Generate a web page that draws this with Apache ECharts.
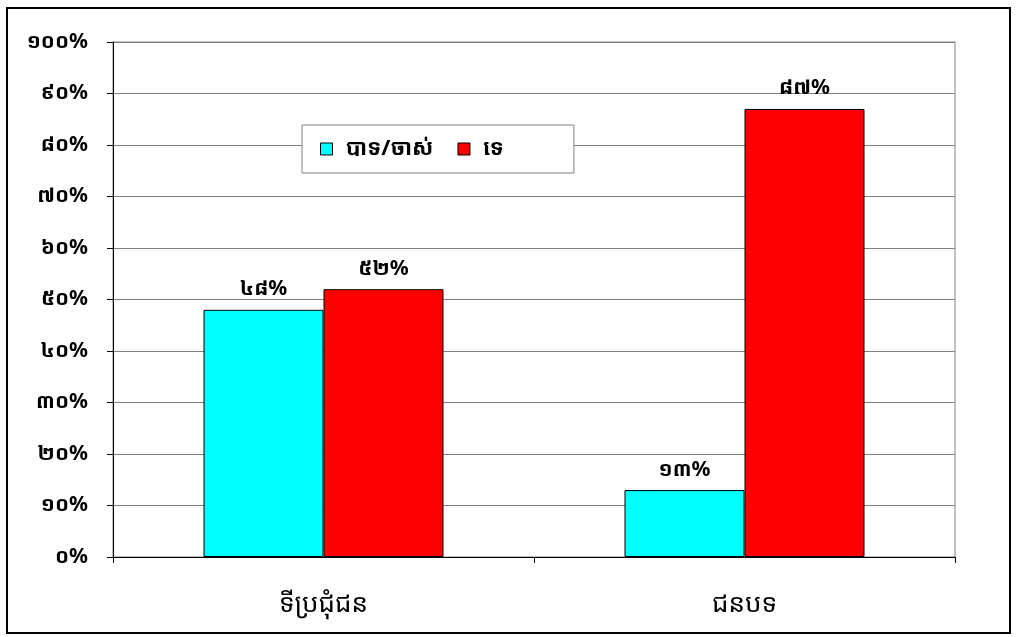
<!DOCTYPE html>
<html lang="km">
<head>
    <meta charset="utf-8">
    <title>ទីប្រជុំជន / ជនបទ</title>
    <script src="https://cdn.jsdelivr.net/npm/echarts@6/dist/echarts.min.js"></script>
    <style>
        html, body { margin: 0; padding: 0; background: #fff; }
        #main { width: 1019px; height: 637px; }
    </style>
</head>
<body>
<div id="main"></div>
<script>
    // data
    var categories = ['ទីប្រជុំជន', 'ជនបទ'];
    var seriesNames = ['បាទ/ចាស់', 'ទេ'];
    var yesValues = [48, 13];
    var noValues = [52, 87];
    var yTickLabels = ['០%', '១០%', '២០%', '៣០%', '៤០%', '៥០%', '៦០%', '៧០%', '៨០%', '៩០%', '១០០%'];

    var khDigits = ['០', '១', '២', '៣', '៤', '៥', '៦', '៧', '៨', '៩'];
    function toKhmer(n) {
        return String(n).replace(/[0-9]/g, function (d) { return khDigits[+d]; });
    }

    var font = "'Noto Sans Khmer', 'Khmer OS', 'DejaVu Sans', sans-serif";

    var myChart = echarts.init(document.getElementById('main'));
    var option = {
        backgroundColor: '#fff',
        animation: false,
        textStyle: { fontFamily: font },
        graphic: [{
            type: 'rect',
            shape: { x: 7, y: 8, width: 1003, height: 625 },
            style: { fill: 'none', stroke: '#000', lineWidth: 2 },
            z: 100
        }],
        grid: {
            left: 113, right: 64, top: 42, bottom: 80,
            show: true, borderColor: '#808080', borderWidth: 1
        },
        legend: {
            data: seriesNames,
            left: 302, top: 125,
            orient: 'horizontal',
            icon: 'rect',
            itemWidth: 12, itemHeight: 12,
            itemGap: 24,
            padding: [13, 70, 13, 18],
            backgroundColor: '#fff',
            borderColor: '#808080', borderWidth: 1,
            textStyle: { fontSize: 22, fontWeight: 'bold', color: '#000', fontFamily: font, padding: [0, 0, 0, 8] },
            itemStyle: { borderColor: '#000', borderWidth: 1 }
        },
        xAxis: {
            type: 'category',
            data: categories,
            axisLine: { lineStyle: { color: '#000' } },
            axisTick: { show: true, length: 6, interval: 0, lineStyle: { color: '#000' } },
            axisLabel: { margin: 35, fontSize: 26, color: '#000', fontFamily: font }
        },
        yAxis: {
            type: 'value',
            min: 0, max: 100, interval: 10,
            axisLine: { show: true, lineStyle: { color: '#000' } },
            axisTick: { show: true, length: 6, lineStyle: { color: '#000' } },
            splitLine: { lineStyle: { color: '#808080', width: 1 } },
            axisLabel: {
                margin: 25, fontSize: 21, fontWeight: 'bold', color: '#000', fontFamily: font,
                formatter: function (v) { return yTickLabels[Math.round(v / 10)]; }
            }
        },
        series: [{
            name: seriesNames[0],
            type: 'bar',
            data: yesValues,
            barWidth: 120,
            barGap: '0%',
            itemStyle: { color: '#00FFFF', borderColor: '#000', borderWidth: 1 },
            label: {
                show: true, position: 'top', distance: 10,
                fontSize: 21, fontWeight: 'bold', color: '#000', fontFamily: font,
                formatter: function (p) { return toKhmer(p.value) + '%'; }
            }
        }, {
            name: seriesNames[1],
            type: 'bar',
            data: noValues,
            barWidth: 120,
            itemStyle: { color: '#FF0000', borderColor: '#000', borderWidth: 1 },
            label: {
                show: true, position: 'top', distance: 10,
                fontSize: 21, fontWeight: 'bold', color: '#000', fontFamily: font,
                formatter: function (p) { return toKhmer(p.value) + '%'; }
            }
        }]
    };
    myChart.setOption(option);
</script>
</body>
</html>
